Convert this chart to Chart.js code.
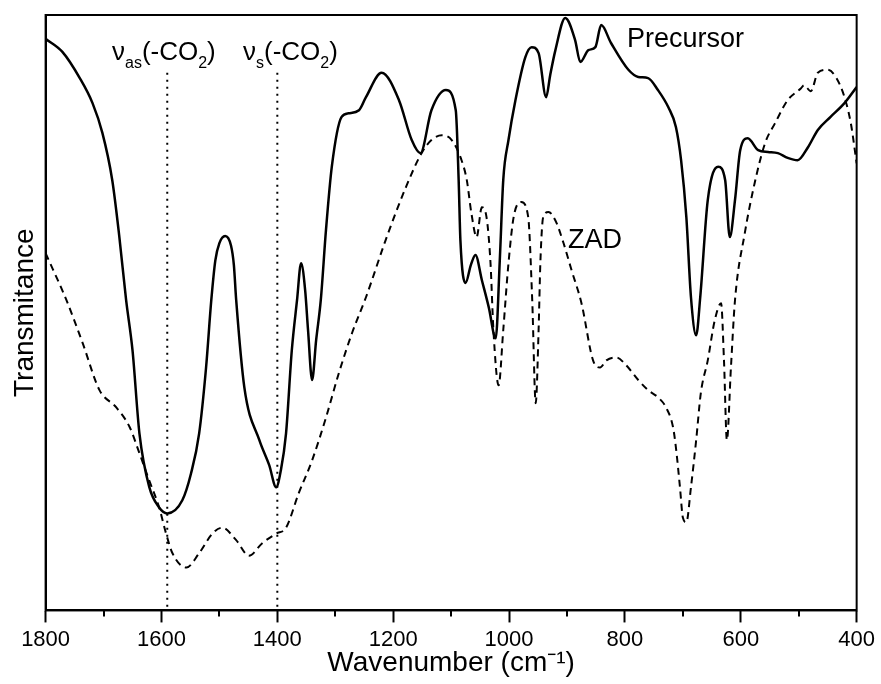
<!DOCTYPE html>
<html>
<head>
<meta charset="utf-8">
<script src="https://cdn.jsdelivr.net/npm/chart.js@4.4.0/dist/chart.umd.min.js"></script>
<style>
  html, body { margin: 0; padding: 0; background: #fff; }
  #wrap { width: 881px; height: 684px; }
</style>
</head>
<body>
<div id="wrap"><canvas id="ftir" width="881" height="684"></canvas></div>
<script>
// FTIR spectra - precursor vs ZAD (transmitance in arbitrary units)
const precursorWn = [1800, 1771, 1741, 1719, 1702, 1685, 1673, 1661, 1650, 1638, 1621, 1604, 1590, 1564, 1549,
  1535, 1523, 1514, 1507, 1500, 1490, 1480, 1475, 1471, 1457, 1431, 1414, 1402, 1394, 1385,
  1375, 1366, 1359, 1352, 1347, 1340, 1333, 1325, 1316, 1306, 1289, 1277, 1259, 1247, 1220,
  1190, 1168, 1153, 1134, 1109, 1092, 1087, 1084, 1075, 1066, 1058, 1047, 1035, 1023, 1016,
  1010, 1001, 989, 972, 961, 949, 936, 929, 920, 903, 886, 877, 863, 851, 841,
  824, 794, 777, 760, 743, 725, 712, 703, 694, 686, 677, 670, 657, 639, 627,
  619, 610, 601, 588, 570, 553, 536, 519, 502, 484, 467, 445, 421, 400];
const precursorT = [96.0, 93.8, 89.4, 85.2, 80.2, 72.3, 63.0, 52.1, 43.7, 29.7, 20.7, 17.3, 16.3, 18.5, 23.0,
  29.7, 40.8, 52.1, 58.8, 61.7, 62.9, 61.3, 58.0, 52.1, 37.5, 28.6, 24.4, 20.7, 23.5, 29.7,
  43.7, 52.1, 58.3, 53.8, 47.1, 38.7, 45.4, 52.1, 63.9, 74.5, 82.9, 83.5, 84.0, 86.2, 90.3,
  85.7, 79.0, 76.8, 84.0, 87.4, 84.0, 72.3, 62.2, 55.0, 58.0, 59.7, 55.5, 50.9, 45.7, 58.8,
  72.3, 79.0, 85.7, 92.9, 94.6, 93.6, 86.2, 89.9, 94.1, 99.5, 95.8, 92.1, 94.1, 94.6, 98.3,
  95.3, 90.8, 89.6, 89.4, 87.4, 84.5, 81.2, 75.6, 66.1, 52.6, 46.2, 52.6, 68.9, 74.5, 72.3,
  62.7, 68.9, 77.3, 79.3, 77.3, 77.0, 76.8, 76.0, 75.6, 77.8, 80.7, 82.9, 85.2, 87.9];

const zadWn = [1800, 1764, 1736, 1707, 1678, 1655, 1638, 1621, 1604, 1592, 1581, 1557, 1535, 1512, 1495,
  1471, 1449, 1426, 1402, 1385, 1363, 1340, 1316, 1294, 1271, 1247, 1213, 1178, 1151, 1134,
  1116, 1099, 1082, 1073, 1065, 1056, 1047, 1039, 1032, 1027, 1018, 1010, 1001, 992, 979,
  967, 960, 954, 949, 946, 941, 932, 920, 906, 892, 875, 855, 843, 832, 815,
  798, 777, 760, 743, 729, 717, 712, 705, 700, 694, 686, 677, 669, 657, 645,
  634, 629, 624, 617, 610, 593, 576, 558, 541, 519, 496, 491, 479, 467, 450,
  436, 421, 410, 400];
const zadT = [60.0, 52.1, 44.9, 37.0, 34.1, 30.8, 26.4, 21.8, 17.3, 12.9, 9.6, 7.2, 9.6, 12.9, 13.9,
  11.8, 9.2, 11.3, 12.9, 13.9, 19.7, 25.2, 32.4, 39.8, 46.6, 52.6, 62.2, 71.1, 76.8, 79.0,
  79.8, 79.0, 75.6, 72.3, 66.7, 62.7, 67.7, 66.1, 58.3, 47.1, 37.8, 47.1, 58.3, 66.1, 68.6,
  66.1, 52.1, 34.8, 47.1, 58.3, 66.1, 66.9, 65.5, 61.7, 57.1, 51.6, 42.0, 40.8, 42.0, 42.5,
  41.2, 38.7, 37.0, 35.8, 34.1, 30.8, 27.4, 20.7, 15.6, 14.8, 20.7, 28.6, 36.5, 42.0, 48.7,
  51.6, 42.0, 28.6, 40.8, 52.1, 63.4, 71.8, 78.5, 81.8, 85.7, 87.7, 88.2, 87.2, 90.3, 90.8,
  89.6, 86.2, 81.8, 75.1];

// carboxylate bands marked with dotted lines
const bandWn = [1590, 1400];
const bandTop = 90.3;
const minorTicks = [1700, 1500, 1300, 1100, 900, 700, 500];

const FONT = '"Liberation Sans", Arial, Helvetica, sans-serif';

function toPoints(xs, ys) {
  return xs.map((x, i) => ({ x: x, y: ys[i] }));
}

// draws text runs with sub/superscripts, left to right
function drawRuns(ctx, x, y, runs) {
  runs.forEach(r => {
    ctx.font = r.size + 'px ' + FONT;
    ctx.fillText(r.t, x, y + (r.dy || 0));
    x += ctx.measureText(r.t).width;
  });
}

const decor = {
  id: 'decor',
  afterDraw(chart) {
    const { ctx, chartArea: a, scales } = chart;
    ctx.save();
    ctx.strokeStyle = '#000';
    ctx.lineWidth = 2;
    ctx.strokeRect(a.left, a.top, a.right - a.left, a.bottom - a.top);

    // minor ticks every 100 cm-1
    minorTicks.forEach(v => {
      const px = Math.round(scales.x.getPixelForValue(v));
      ctx.beginPath();
      ctx.moveTo(px, a.bottom);
      ctx.lineTo(px, a.bottom + 6);
      ctx.stroke();
    });

    ctx.fillStyle = '#000';
    ctx.textBaseline = 'alphabetic';
    ctx.textAlign = 'left';
    drawRuns(ctx, 112, 60, [
      { t: 'ν', size: 26 }, { t: 'as', size: 16, dy: 8 },
      { t: '(-CO', size: 26 }, { t: '2', size: 16, dy: 8 }, { t: ')', size: 26 }
    ]);
    drawRuns(ctx, 243, 60, [
      { t: 'ν', size: 26 }, { t: 's', size: 16, dy: 8 },
      { t: '(-CO', size: 26 }, { t: '2', size: 16, dy: 8 }, { t: ')', size: 26 }
    ]);
    ctx.font = '27px ' + FONT;
    ctx.fillText('Precursor', 627, 47);
    ctx.fillText('ZAD', 568, 248);
    ctx.restore();
  }
};

const bandSets = bandWn.map(w => ({
  data: [{ x: w, y: bandTop }, { x: w, y: 0 }],
  borderColor: '#000',
  borderWidth: 2,
  borderDash: [2, 5],
  pointRadius: 0,
  tension: 0,
  cubicInterpolationMode: 'default'
}));

new Chart(document.getElementById('ftir'), {
  type: 'line',
  data: {
    datasets: [
      {
        label: 'Precursor',
        data: toPoints(precursorWn, precursorT),
        borderColor: '#000',
        borderWidth: 2.5,
        pointRadius: 0,
        cubicInterpolationMode: 'monotone'
      },
      {
        label: 'ZAD',
        data: toPoints(zadWn, zadT),
        borderColor: '#000',
        borderWidth: 2,
        borderDash: [7, 5],
        pointRadius: 0,
        cubicInterpolationMode: 'monotone'
      },
      ...bandSets
    ]
  },
  options: {
    responsive: false,
    animation: false,
    devicePixelRatio: 1,
    layout: { padding: { left: 0, right: 22, top: 15, bottom: 2 } },
    plugins: { legend: { display: false }, tooltip: { enabled: false } },
    scales: {
      x: {
        type: 'linear',
        reverse: true,
        min: 400,
        max: 1800,
        ticks: { stepSize: 200, color: '#000', padding: 6, maxRotation: 0, autoSkip: false,
          callback: v => String(v),
          font: { family: FONT, size: 22, lineHeight: 1 } },
        grid: { drawOnChartArea: false, drawTicks: true, tickLength: 12, tickWidth: 2, tickColor: '#000' },
        border: { display: true, color: '#000', width: 2 },
        title: { display: true, text: 'Wavenumber (cm⁻¹)', color: '#000',
          font: { family: FONT, size: 28, lineHeight: 0.52 }, padding: { top: 0, bottom: 11 } }
      },
      y: {
        min: 0,
        max: 100,
        ticks: { display: false },
        grid: { display: false, drawTicks: false },
        border: { display: true, color: '#000', width: 2 },
        title: { display: true, text: 'Transmitance', color: '#000',
          font: { family: FONT, size: 28, lineHeight: 1.2 }, padding: { top: 8, bottom: 4 } }
      }
    }
  },
  plugins: [decor]
});
</script>
</body>
</html>
